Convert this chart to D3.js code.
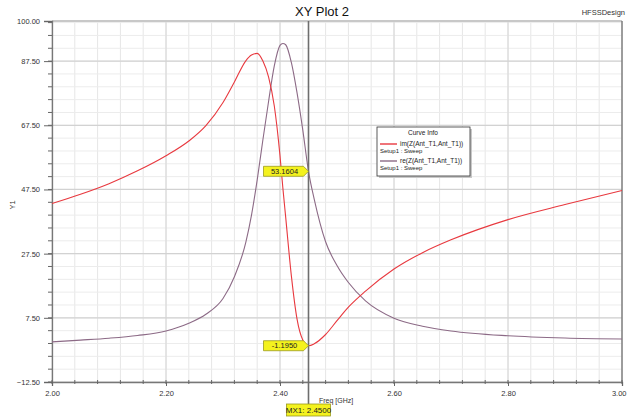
<!DOCTYPE html>
<html>
<head>
<meta charset="utf-8">
<script src="https://cdn.jsdelivr.net/npm/d3@7"></script>
<style>
  html, body { margin: 0; padding: 0; background: #fff; }
  svg { display: block; font-family: Arial, "Liberation Sans", sans-serif; }
</style>
</head>
<body>
<svg id="chart" width="627" height="420"></svg>
<script>
// ---- data ----
const freq = [2.00, 2.05, 2.10, 2.15, 2.20, 2.24, 2.27, 2.30, 2.32, 2.34, 2.35, 2.36, 2.37, 2.38, 2.39, 2.40, 2.405, 2.41, 2.42, 2.43, 2.44, 2.45, 2.46, 2.48, 2.50, 2.52, 2.55, 2.60, 2.65, 2.70, 2.80, 2.90, 3.00];
const imZ  = [43.1, 46.0, 49.3, 53.3, 58.0, 62.6, 67.4, 74.6, 81.0, 87.6, 89.4, 89.9, 87.5, 82.5, 73.5, 58.0, 48.0, 38.8, 20.5, 7.0, 0.6, -1.195, -0.6, 2.3, 6.6, 10.8, 15.8, 22.7, 27.8, 31.8, 38.1, 42.8, 47.2];
const reZ  = [0.0, 0.55, 1.15, 2.0, 3.4, 5.8, 8.6, 13.5, 20.3, 31.0, 39.5, 50.5, 63.0, 75.0, 86.0, 92.4, 93.0, 92.6, 87.0, 77.5, 66.0, 53.16, 44.5, 31.2, 23.8, 18.5, 12.8, 7.4, 4.9, 3.4, 1.9, 1.2, 0.9];
const seriesNames = ["im(Z(Ant_T1,Ant_T1))", "re(Z(Ant_T1,Ant_T1))"];
const setupName = "Setup1 : Sweep";
const xTicks = [2.0, 2.2, 2.4, 2.6, 2.8, 3.0];
const yTicks = [-12.5, 7.5, 27.5, 47.5, 67.5, 87.5, 100];
const markerFreq = 2.45;
const markerLabels = ["53.1604", "-1.1950"];
const markerValues = [53.16, -1.195];
const markerName = "MX1: 2.4500";

// ---- layout ----
const svg = d3.select("#chart");
const pL = 52, pR = 622, pT = 21, pB = 382;
const x = d3.scaleLinear().domain([2.0, 3.0]).range([pL, pR]);
const y = d3.scaleLinear().domain([-12.5, 100]).range([pB, pT]);

const colIm = "#e8393f", colRe = "#8c6a86";

// grid: minor
const xMinor = d3.range(2.0, 3.0001, 0.04);
const yMinor = d3.range(-12.5, 100.01, 4);
const g = svg.append("g");
g.append("g").selectAll("line").data(xMinor).join("line")
  .attr("x1", d => x(d)).attr("x2", d => x(d)).attr("y1", pT).attr("y2", pB)
  .attr("stroke", "#e6e6e6").attr("stroke-width", 1);
g.append("g").selectAll("line").data(yMinor).join("line")
  .attr("x1", pL).attr("x2", pR).attr("y1", d => y(d)).attr("y2", d => y(d))
  .attr("stroke", "#ececec").attr("stroke-width", 1);
// grid: major
g.append("g").selectAll("line").data(xTicks).join("line")
  .attr("x1", d => x(d)).attr("x2", d => x(d)).attr("y1", pT).attr("y2", pB)
  .attr("stroke", "#d6d6d6").attr("stroke-width", 1);
g.append("g").selectAll("line").data(yTicks.slice(0, -1)).join("line")
  .attr("x1", pL).attr("x2", pR).attr("y1", d => y(d)).attr("y2", d => y(d))
  .attr("stroke", "#d2d2d2").attr("stroke-width", 1.2);

// frame
svg.append("line").attr("x1", pL).attr("x2", pR).attr("y1", pT).attr("y2", pT)
  .attr("stroke", "#c8c8c8").attr("stroke-width", 2);
svg.append("line").attr("x1", pR).attr("x2", pR).attr("y1", pT).attr("y2", pB)
  .attr("stroke", "#555").attr("stroke-width", 1);

// axes
const yAxis = d3.axisLeft(y).tickValues(yTicks).tickFormat(d3.format(".2f")).tickSize(8).tickPadding(4);
const yAx = svg.append("g").attr("transform", `translate(${pL},0)`).call(yAxis);
const xAxis = d3.axisBottom(x).tickValues(xTicks).tickFormat(d3.format(".2f")).tickSize(4).tickPadding(5);
const xAx = svg.append("g").attr("transform", `translate(0,${pB})`).call(xAxis);
[yAx, xAx].forEach(a => {
  a.select(".domain").attr("stroke", "#777").attr("stroke-width", 1.3);
  a.selectAll(".tick line").attr("stroke", "#666");
  a.selectAll("text").attr("fill", "#333").style("font-size", "7.5px").style("font-family", "Arial, 'Liberation Sans', sans-serif");
});
// keep last x label inside the window
xAx.selectAll(".tick text").filter(d => d === 3.0).attr("text-anchor", "end").attr("dx", "4");

// minor ticks
svg.append("g").selectAll("line").data(yMinor).join("line")
  .attr("x1", pL - 4).attr("x2", pL).attr("y1", d => y(d)).attr("y2", d => y(d))
  .attr("stroke", "#666");
svg.append("g").selectAll("line").data(xMinor).join("line")
  .attr("x1", d => x(d)).attr("x2", d => x(d)).attr("y1", pB - 2).attr("y2", pB + 2)
  .attr("stroke", "#666");

// curves
const line = vals => d3.line().x((d, i) => x(freq[i])).y(d => y(d)).curve(d3.curveMonotoneX)(vals);
svg.append("path").attr("d", line(reZ)).attr("fill", "none").attr("stroke", colRe).attr("stroke-width", 1.1);
svg.append("path").attr("d", line(imZ)).attr("fill", "none").attr("stroke", colIm).attr("stroke-width", 1.1);

// marker line
const mx = x(markerFreq);
svg.append("line").attr("x1", mx).attr("x2", mx).attr("y1", pT).attr("y2", 404)
  .attr("stroke", "#6e6e6e").attr("stroke-width", 1.6);

// marker labels (pointing right to the curve point)
markerValues.forEach((v, i) => {
  const py = y(v);
  const w = 40, h = 10, tip = 5;
  const x0 = mx - tip - w;
  svg.append("path")
    .attr("d", `M${x0},${py - h / 2} L${mx - tip},${py - h / 2} L${mx},${py} L${mx - tip},${py + h / 2} L${x0},${py + h / 2} Z`)
    .attr("fill", "#f4f21e").attr("stroke", "#9a9a20").attr("stroke-width", 0.8);
  svg.append("text").attr("x", x0 + w / 2 + 1).attr("y", py + 2.6)
    .attr("text-anchor", "middle").style("font-size", "7.5px").attr("fill", "#222")
    .text(markerLabels[i]);
});
// bottom marker label
svg.append("rect").attr("x", mx - 22).attr("y", 404).attr("width", 44).attr("height", 12)
  .attr("fill", "#f4f21e").attr("stroke", "#9a9a20").attr("stroke-width", 0.8);
svg.append("text").attr("x", mx).attr("y", 413).attr("text-anchor", "middle")
  .style("font-size", "8px").attr("fill", "#222").text(markerName);

// titles
svg.append("text").attr("x", 322).attr("y", 16).attr("text-anchor", "middle")
  .style("font-size", "13px").attr("fill", "#111").text("XY Plot 2");
svg.append("text").attr("x", 625).attr("y", 15).attr("text-anchor", "end")
  .style("font-size", "7.5px").attr("fill", "#333").text("HFSSDesign");
svg.append("text").attr("transform", "translate(15,205) rotate(-90)").attr("text-anchor", "middle")
  .style("font-size", "7.5px").attr("fill", "#333").text("Y1");
svg.append("text").attr("x", 319).attr("y", 403)
  .style("font-size", "7px").attr("fill", "#333").text("Freq [GHz]");

// legend
const lg = svg.append("g").attr("transform", "translate(377,127)");
lg.append("rect").attr("x", 2).attr("y", 2).attr("width", 93).attr("height", 49).attr("fill", "#c8c8c8");
lg.append("rect").attr("x", 0).attr("y", 0).attr("width", 93).attr("height", 49)
  .attr("fill", "#fff").attr("stroke", "#333").attr("stroke-width", 0.8);
lg.append("text").attr("x", 46).attr("y", 8).attr("text-anchor", "middle")
  .style("font-size", "6.5px").attr("fill", "#222").text("Curve Info");
const cols = [colIm, colRe];
seriesNames.forEach((nm, i) => {
  const yy = 17 + i * 17;
  lg.append("line").attr("x1", 3).attr("x2", 20).attr("y1", yy).attr("y2", yy)
    .attr("stroke", cols[i]).attr("stroke-width", 1.4);
  lg.append("text").attr("x", 23).attr("y", yy + 2).style("font-size", "6.5px").attr("fill", "#222").text(nm);
  lg.append("text").attr("x", 3).attr("y", yy + 9).style("font-size", "6px").attr("fill", "#222").text(setupName);
});
</script>
</body>
</html>
